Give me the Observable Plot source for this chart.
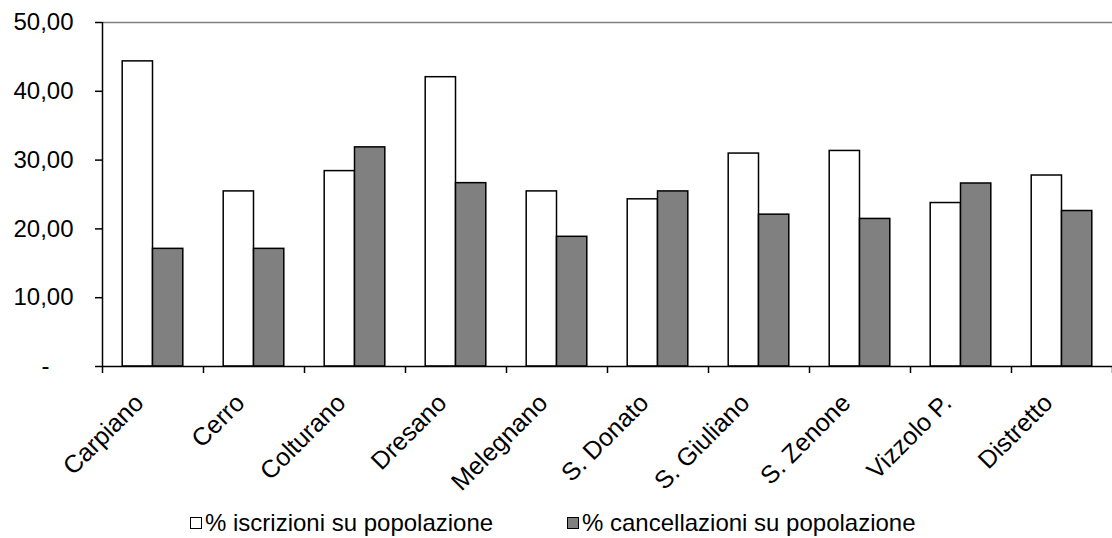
<!DOCTYPE html>
<html>
<head>
<meta charset="utf-8">
<script src="https://cdn.jsdelivr.net/npm/d3@7"></script>
<script src="https://cdn.jsdelivr.net/npm/@observablehq/plot@0.6"></script>
<style>
  html, body { margin: 0; padding: 0; background: #fff; }
  #chart { position: relative; width: 1112px; height: 538px; font-family: "Liberation Sans", Arial, sans-serif; }
  #legend { position: relative; width: 1112px; height: 38px; font-size: 24px; color: #000; }
  .item { position: absolute; top: 9px; display: flex; align-items: center; white-space: nowrap; }
  .box { width: 12px; height: 12px; border: 1px solid #000; margin-right: 3px; box-sizing: border-box; }
</style>
</head>
<body>
<div id="chart"></div>
<script>
const categories = ["Carpiano","Cerro","Colturano","Dresano","Melegnano","S. Donato","S. Giuliano","S. Zenone","Vizzolo P.","Distretto"];
const iscrizioni = [44.35,25.45,28.4,42.05,25.45,24.3,30.95,31.33,23.76,27.76];
const cancellazioni = [17.1,17.1,31.85,26.65,18.85,25.45,22.07,21.45,26.6,22.6];
const seriesNames = ["% iscrizioni su popolazione","% cancellazioni su popolazione"];
const seriesColors = ["#ffffff","#808080"];
const yTicks = [0,10,20,30,40,50];

const rowsA = categories.map((c,i)=>({cat:c, i, value: iscrizioni[i]}));
const rowsB = categories.map((c,i)=>({cat:c, i, value: cancellazioni[i]}));
const fmt = d => d === 0 ? "" : d.toFixed(2).replace(".", ",");

const plot = Plot.plot({
  width: 1112,
  height: 500,
  marginLeft: 102,
  marginRight: 0,
  marginTop: 22,
  marginBottom: 134,
  style: {fontFamily: "'Liberation Sans', Arial, sans-serif", fontSize: "24px", color: "#000", background: "#fff"},
  x: {domain: [0, categories.length], label: null},
  y: {domain: [0, 50], label: null},
  marks: [
    Plot.ruleY([50], {stroke: "#808080", strokeWidth: 1.5}),
    Plot.rectY(rowsA, {x1: d => d.i + 0.2, x2: d => d.i + 0.5, y: "value", fill: seriesColors[0], stroke: "#000", strokeWidth: 1.5}),
    Plot.rectY(rowsB, {x1: d => d.i + 0.5, x2: d => d.i + 0.8, y: "value", fill: seriesColors[1], stroke: "#000", strokeWidth: 1.5}),
    Plot.ruleY([0], {stroke: "#000", strokeWidth: 1.5}),
    Plot.ruleX([0], {y1: 0, y2: 50, stroke: "#000", strokeWidth: 1.5}),
    Plot.axisX({ticks: d3.range(0, categories.length + 1), tickFormat: () => "", tickSize: 7, strokeWidth: 1.5, label: null}),
    Plot.axisY({ticks: yTicks, tickFormat: fmt, tickSize: 7, tickPadding: 22, fontSize: 24, strokeWidth: 1.5, label: null}),
    Plot.text(["-"], {y: 0, frameAnchor: "left", dx: -57, fontSize: 24, textAnchor: "middle", text: d => d}),
    Plot.text(categories, {x: (d,i) => i + 0.5, frameAnchor: "bottom", text: d => d, rotate: -45, textAnchor: "end", dx: -8, dy: 38, fontSize: 25})
  ]
});
document.getElementById("chart").appendChild(plot);

const legend = document.createElement("div");
legend.id = "legend";
const lefts = [190, 567];
seriesNames.forEach((n, k) => {
  const item = document.createElement("div");
  item.className = "item";
  item.style.left = lefts[k] + "px";
  const box = document.createElement("div");
  box.className = "box";
  box.style.background = seriesColors[k];
  const t = document.createElement("span");
  t.textContent = n;
  item.appendChild(box);
  item.appendChild(t);
  legend.appendChild(item);
});
document.getElementById("chart").appendChild(legend);
</script>
</body>
</html>
